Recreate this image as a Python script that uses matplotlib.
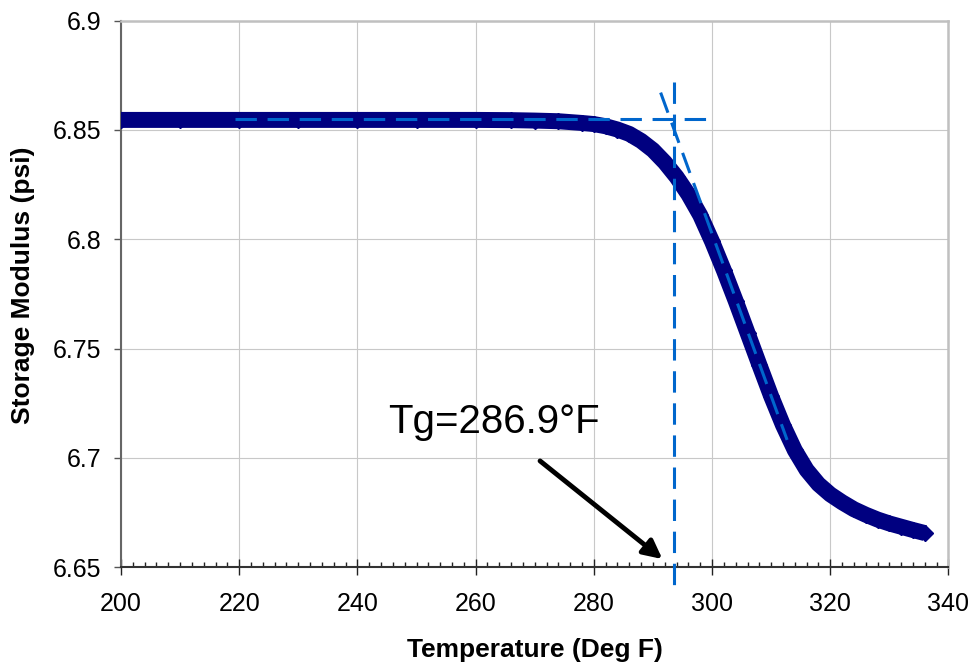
import numpy as np
import matplotlib
matplotlib.use("Agg")
import matplotlib.pyplot as plt
from matplotlib.ticker import MultipleLocator, FuncFormatter

plt.rcParams['font.family'] = ['Liberation Sans', 'DejaVu Sans']

# storage modulus curve
temp = [200, 210, 220, 230, 240, 250, 260, 266, 270, 274, 278, 280, 282, 284,
        286, 288, 290, 292, 294, 296, 298, 300, 302, 304, 306, 308, 310, 312,
        314, 316, 318, 320, 322, 324, 326, 328, 330, 332, 334, 336]
modulus = [6.8546, 6.8546, 6.8546, 6.8546, 6.8546, 6.8546, 6.8546, 6.8545,
           6.8543, 6.8540, 6.8532, 6.8527, 6.8517, 6.8502, 6.8482, 6.8450,
           6.8408, 6.8352, 6.8285, 6.8205, 6.8110, 6.7990, 6.7858, 6.7718,
           6.7572, 6.7426, 6.7282, 6.7150, 6.7035, 6.6945, 6.6880, 6.6833,
           6.6797, 6.6765, 6.6740, 6.6718, 6.6700, 6.6685, 6.6670, 6.6656]

# tangent construction lines
flat_x = [219.3, 300.7]
flat_y = [6.855, 6.855]
slope_x = [291.3, 312.7]
slope_y = [6.8671, 6.7082]
tg_x = [293.6, 293.6]
tg_y = [6.872, 6.639]

label_txt = 'Tg=286.9°F'

fig = plt.figure(figsize=(9.75, 6.69), dpi=100)
ax = fig.add_axes([0.1241, 0.1522, 0.8487, 0.8169])

ax.plot(temp, modulus, color='#000080', lw=11.5, marker='D', ms=8.2,
        solid_capstyle='butt', solid_joinstyle='round', zorder=3)

dash = (0, (7, 3.5))
blue = '#0066CC'
ax.plot(flat_x, flat_y, color=blue, lw=2.2, ls=dash, zorder=4)
ax.plot(slope_x, slope_y, color=blue, lw=2.2, ls=dash, zorder=4)
ax.plot(tg_x, tg_y, color=blue, lw=2.2, ls=dash, zorder=4, clip_on=False)

ax.text(245.2, 6.7115, label_txt, fontsize=29, va='baseline', ha='left')
ax.annotate('', xy=(291.6, 6.6537), xytext=(270.9, 6.6986),
            arrowprops=dict(arrowstyle='-|>', lw=3.5, color='black',
                            mutation_scale=28, shrinkA=0, shrinkB=0))

ax.set_xlim(200, 340)
ax.set_ylim(6.65, 6.9)
ax.xaxis.set_major_locator(MultipleLocator(20))
ax.xaxis.set_minor_locator(MultipleLocator(2))
ax.yaxis.set_major_locator(MultipleLocator(0.05))
ax.yaxis.set_major_formatter(FuncFormatter(lambda v, p: f'{v:g}'))

ax.grid(True, which='major', color='#c8c8c8', lw=0.8)
ax.set_axisbelow(True)

ax.tick_params(axis='x', which='major', direction='inout', length=11.5,
               width=1, pad=12, labelsize=18, color='#222222')
ax.tick_params(axis='x', which='minor', direction='in', length=3.6,
               width=1, color='#222222')
ax.tick_params(axis='y', which='major', direction='out', length=5,
               width=1, pad=9, labelsize=18, color='#555555')

for s in ['top', 'right']:
    ax.spines[s].set_color('#c0c0c0')
    ax.spines[s].set_linewidth(1.8)
ax.spines['left'].set_color('#666666')
ax.spines['left'].set_linewidth(1.5)
ax.spines['bottom'].set_color('#333333')
ax.spines['bottom'].set_linewidth(1.5)

ax.set_xlabel('Temperature (Deg F)', fontsize=19, fontweight='bold', labelpad=16)
ax.set_ylabel('Storage Modulus (psi)', fontsize=19, fontweight='bold')
ax.yaxis.set_label_coords(-0.104, 0.516)

fig.savefig('out.png', dpi=100)
